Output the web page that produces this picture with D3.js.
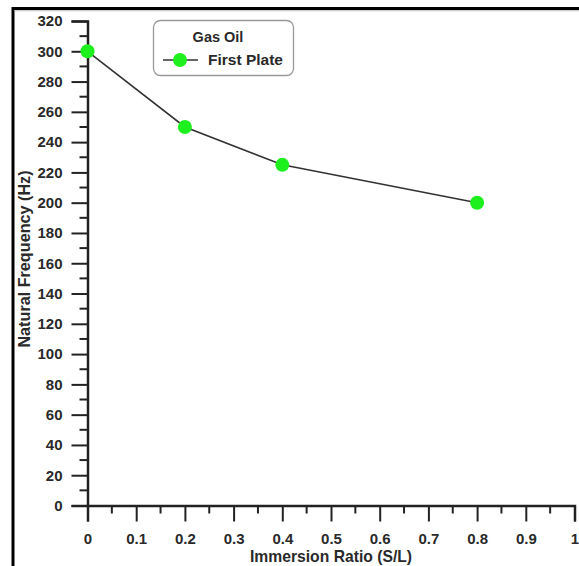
<!DOCTYPE html>
<html>
<head>
<meta charset="utf-8">
<script src="https://cdn.jsdelivr.net/npm/d3@7"></script>
<style>
  html, body { margin: 0; padding: 0; background: #fff; }
  svg { display: block; }
  text { font-family: "Liberation Sans", Arial, sans-serif; font-weight: bold; fill: #2a2a2a; }
</style>
</head>
<body>
<svg id="chart" width="579" height="566"></svg>
<script>
// Natural frequency of the first plate immersed in gas oil
const immersionRatio = [0, 0.2, 0.4, 0.8];
const naturalFrequency = [300, 250, 225, 200];
const xTickValues = [0, 0.1, 0.2, 0.3, 0.4, 0.5, 0.6, 0.7, 0.8, 0.9, 1];
const yTickValues = [0, 20, 40, 60, 80, 100, 120, 140, 160, 180, 200, 220, 240, 260, 280, 300, 320];
const legendTitle = "Gas Oil";
const seriesName = "First Plate";
const xTitle = "Immersion Ratio (S/L)";
const yTitle = "Natural Frequency (Hz)";

const svg = d3.select("#chart");
const W = 579, H = 566;

const x = d3.scaleLinear().domain([0, 1]).range([87.5, 574.5]);
const y = d3.scaleLinear().domain([0, 320]).range([505.5, 21]);

// outer frame (left and top edges)
svg.append("path")
  .attr("d", `M13,${H} L13,8.5 L${W},8.5`)
  .attr("fill", "none").attr("stroke", "#000").attr("stroke-width", 3);
svg.append("line").attr("x1", 14.5).attr("x2", W).attr("y1", 10.8).attr("y2", 10.8)
  .attr("stroke", "#bbb").attr("stroke-width", 1);

// minor ticks
const xMinor = d3.range(0.05, 1, 0.1);
const yMinor = d3.range(10, 320, 20);
svg.append("g").selectAll("line").data(xMinor).join("line")
  .attr("x1", d => x(d)).attr("x2", d => x(d))
  .attr("y1", y(0)).attr("y2", y(0) + 8)
  .attr("stroke", "#222").attr("stroke-width", 2);
svg.append("g").selectAll("line").data(yMinor).join("line")
  .attr("y1", d => y(d)).attr("y2", d => y(d))
  .attr("x1", x(0)).attr("x2", x(0) - 8)
  .attr("stroke", "#222").attr("stroke-width", 2);

// x axis
const xAxis = svg.append("g").attr("transform", `translate(0,${y(0)})`)
  .call(d3.axisBottom(x).tickValues(xTickValues).tickFormat(d3.format("")).tickSize(16).tickPadding(12));
xAxis.select(".domain").attr("stroke", "#222").attr("stroke-width", 2.5);
xAxis.selectAll(".tick line").attr("stroke", "#222").attr("stroke-width", 2);
xAxis.selectAll(".tick text").attr("font-size", 15).attr("font-family", "Liberation Sans, Arial, sans-serif").attr("font-weight", "bold").attr("fill", "#2a2a2a");

// y axis
const yAxis = svg.append("g").attr("transform", `translate(${x(0)},0)`)
  .call(d3.axisLeft(y).tickValues(yTickValues).tickSize(16).tickPadding(9));
yAxis.select(".domain").attr("stroke", "#222").attr("stroke-width", 2.5);
yAxis.selectAll(".tick line").attr("stroke", "#222").attr("stroke-width", 2);
yAxis.selectAll(".tick text").attr("font-size", 15).attr("font-family", "Liberation Sans, Arial, sans-serif").attr("font-weight", "bold").attr("fill", "#2a2a2a");

// axis titles
svg.append("text").attr("x", 331).attr("y", 562).attr("text-anchor", "middle")
  .attr("font-size", 15.7).text(xTitle);
svg.append("text").attr("transform", "translate(30,259) rotate(-90)").attr("text-anchor", "middle")
  .attr("font-size", 16.2).text(yTitle);

// series line and markers
const pts = immersionRatio.map((v, i) => [v, naturalFrequency[i]]);
svg.append("path").datum(pts)
  .attr("d", d3.line().x(d => x(d[0])).y(d => y(d[1])))
  .attr("fill", "none").attr("stroke", "#333").attr("stroke-width", 1.6);
svg.append("g").selectAll("circle").data(pts).join("circle")
  .attr("cx", d => x(d[0])).attr("cy", d => y(d[1])).attr("r", 7)
  .attr("fill", "#1ef01e");

// legend
const lg = svg.append("g");
lg.append("rect").attr("x", 153.5).attr("y", 20.5).attr("width", 140).attr("height", 55)
  .attr("rx", 7).attr("fill", "#fff").attr("stroke", "#999").attr("stroke-width", 1.3);
lg.append("text").attr("x", 218).attr("y", 42).attr("text-anchor", "middle")
  .attr("font-size", 14.5).text(legendTitle);
lg.append("line").attr("x1", 163).attr("x2", 198).attr("y1", 60).attr("y2", 60)
  .attr("stroke", "#333").attr("stroke-width", 1.6);
lg.append("circle").attr("cx", 180).attr("cy", 60).attr("r", 7).attr("fill", "#1ef01e");
lg.append("text").attr("x", 208).attr("y", 65).attr("font-size", 15.5).text(seriesName);
</script>
</body>
</html>
